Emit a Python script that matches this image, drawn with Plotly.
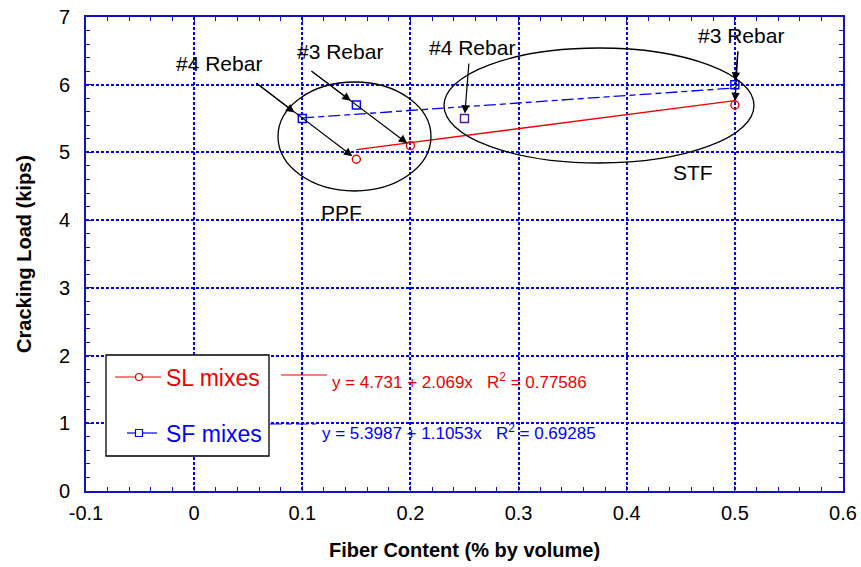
import plotly.graph_objects as go

# ---- data -------------------------------------------------------------
sl_x = [0.15, 0.20, 0.50]
sl_y = [4.9, 5.1, 5.7]

sf_x = [0.10, 0.15, 0.25, 0.50]
sf_y = [5.5, 5.7, 5.5, 6.0]

# linear fits (intercept, slope, R^2) as reported on the chart
sl_fit = (4.731, 2.069, 0.77586)
sf_fit = (5.3987, 1.1053, 0.69285)
sl_fit_range = [0.15, 0.50]
sf_fit_range = [0.10, 0.50]

x_ticks = [-0.1, 0.0, 0.1, 0.2, 0.3, 0.4, 0.5, 0.6]
x_ticklabels = ["-0.1", "0", "0.1", "0.2", "0.3", "0.4", "0.5", "0.6"]
y_ticks = [0, 1, 2, 3, 4, 5, 6, 7]
y_ticklabels = ["0", "1", "2", "3", "4", "5", "6", "7"]

# ---- styling ----------------------------------------------------------
RED = "#ee0000"
BLUE = "#0000ff"
AXIS = "#1010c8"
FONT = "Arial, Liberation Sans, sans-serif"

W, H = 861, 567
L, R, T, B = 86, 843, 17, 491  # plot area in pixels


def px(x):
    return (x - L) / (R - L)


def py(y):
    return (B - y) / (B - T)


def label(text, x, y, size, color="black", xanchor="center"):
    return dict(text=text, xref="paper", yref="paper", x=px(x), y=py(y),
                xanchor=xanchor, yanchor="middle", showarrow=False,
                font=dict(size=size, color=color, family=FONT))


fig = go.Figure()

# fitted lines
for (b0, b1, _), xr, col, dash in [
    (sl_fit, sl_fit_range, RED, "solid"),
    (sf_fit, sf_fit_range, BLUE, "12px,4px,6px,4px"),
]:
    fig.add_trace(go.Scatter(
        x=xr, y=[b0 + b1 * v for v in xr], mode="lines",
        line=dict(color=col, width=1.3, dash=dash), hoverinfo="skip",
    ))

# measured points
fig.add_trace(go.Scatter(
    x=sl_x, y=sl_y, mode="markers", name="SL mixes",
    marker=dict(symbol="circle-open", size=8, color=RED, line=dict(width=1.4)),
))
fig.add_trace(go.Scatter(
    x=sf_x, y=sf_y, mode="markers", name="SF mixes",
    marker=dict(symbol="square-open", size=8,
                color=[BLUE, BLUE, "#4a1aa0", BLUE], line=dict(width=1.4)),
))

shapes = []
annotations = []

# groupings
for x0, x1, y0, y1 in [(278, 431, 82, 191), (444, 754, 48, 163)]:
    shapes.append(dict(type="circle", xref="paper", yref="paper",
                       x0=px(x0), x1=px(x1), y0=py(y1), y1=py(y0),
                       line=dict(color="black", width=1.3)))
for txt, x, y in [("PPF", 341, 212), ("STF", 693, 172)]:
    annotations.append(label(txt, x, y, 21))

# rebar labels
for txt, x, y in [("#4 Rebar", 219, 63), ("#3 Rebar", 340, 52),
                  ("#4 Rebar", 472, 48), ("#3 Rebar", 741, 36)]:
    annotations.append(label(txt, x, y, 21))

# arrows: (tail pixel, target point, standoff)
arrows = [
    ((255, 82), (sf_x[0], sf_y[0]), 10),
    ((255, 82), (sl_x[0], sl_y[0]), 5),
    ((310, 70), (sf_x[1], sf_y[1]), 7),
    ((310, 70), (sl_x[1], sl_y[1]), 4),
    ((469, 62), (sf_x[2], sf_y[2]), 5),
    ((738, 50), (sf_x[3], sf_y[3]), 4),
    ((738, 50), (sl_x[2], sl_y[2]), 4),
]
for (tx, ty), (dx, dy), so in arrows:
    hx = L + (dx + 0.1) / 0.7 * (R - L)
    hy = B - dy / 7 * (B - T)
    annotations.append(dict(
        x=dx, y=dy, xref="x", yref="y", ax=tx - hx, ay=ty - hy,
        text="", showarrow=True, arrowhead=2, arrowsize=1.4, arrowwidth=1.2,
        arrowcolor="black", standoff=so,
    ))

# legend box
shapes.append(dict(type="rect", xref="paper", yref="paper",
                   x0=px(106), x1=px(269), y0=py(456), y1=py(355),
                   line=dict(color="black", width=1.3), fillcolor="white", layer="above"))
legend_rows = [
    ("SL mixes", RED, 377, 115, 161, "circle"),
    ("SF mixes", BLUE, 433, 127, 157, "rect"),
]
for name, col, yy, lx0, lx1, mk in legend_rows:
    shapes.append(dict(type="line", xref="paper", yref="paper",
                       x0=px(lx0), x1=px(lx1), y0=py(yy), y1=py(yy),
                       line=dict(color=col, width=1.2), layer="above"))
    shapes.append(dict(type=mk, xref="paper", yref="paper",
                       xsizemode="pixel", ysizemode="pixel",
                       xanchor=px(139), yanchor=py(yy),
                       x0=-3.5, x1=3.5, y0=-3.5, y1=3.5,
                       line=dict(color=col, width=1.2), fillcolor="white", layer="above"))
    annotations.append(label(name, 164, yy + 1, 23, col, "left"))

# fit equations
eq_rows = [
    (sl_fit, RED, "solid", 375, 281, 327, 330, 381),
    (sf_fit, BLUE, "12px,4px,6px,4px", 424, 270, 316, 320, 432),
]
for (b0, b1, r2), col, dash, ly, lx0, lx1, tx, ty in eq_rows:
    shapes.append(dict(type="line", xref="paper", yref="paper",
                       x0=px(lx0), x1=px(lx1), y0=py(ly), y1=py(ly),
                       line=dict(color=col, width=1.2, dash=dash)))
    annotations.append(label(f"y = {b0:g} + {b1:g}x   R<sup>2</sup> = {r2:g}",
                             tx, ty, 17, col, "left"))

axis_common = dict(
    showline=True, linecolor=AXIS, linewidth=2, mirror="ticks",
    showgrid=True, gridcolor=BLUE, gridwidth=1.6, griddash="3px,2px",
    zeroline=False, ticks="inside", ticklen=5, tickcolor=AXIS, tickwidth=1.2,
    tickfont=dict(size=20, color="black", family=FONT),
    automargin=False,
)

fig.update_layout(
    width=W, height=H,
    margin=dict(l=L, r=W - R, t=T, b=H - B),
    paper_bgcolor="white", plot_bgcolor="white",
    showlegend=False,
    font=dict(family=FONT),
    shapes=shapes, annotations=annotations,
    xaxis=dict(
        range=[-0.1, 0.6], tickvals=x_ticks, ticktext=x_ticklabels,
        minor=dict(dtick=0.02, tick0=-0.1, ticks="inside", ticklen=4,
                   tickcolor=AXIS, showgrid=False),
        ticklabelstandoff=3,
        title=dict(text="<b>Fiber Content (% by volume)</b>", standoff=20,
                   font=dict(size=20, color="black", family=FONT)),
        **axis_common,
    ),
    yaxis=dict(
        range=[0, 7], tickvals=y_ticks, ticktext=y_ticklabels,
        minor=dict(dtick=0.2, tick0=0, ticks="inside", ticklen=4,
                   tickcolor=AXIS, showgrid=False),
        ticklabelstandoff=10,
        title=dict(text="<b>Cracking Load (kips)</b>", standoff=22,
                   font=dict(size=20, color="black", family=FONT)),
        **axis_common,
    ),
)

fig.write_html("out.html")
